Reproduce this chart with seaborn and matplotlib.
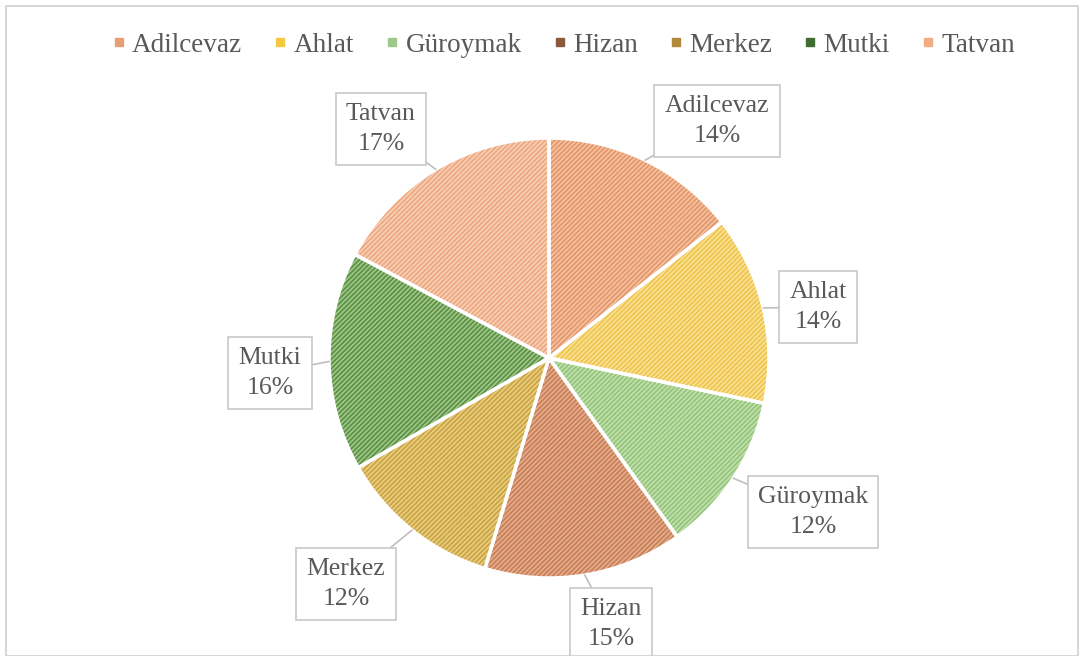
import numpy as np
import matplotlib
matplotlib.use("Agg")
import matplotlib.pyplot as plt
import seaborn as sns
from matplotlib.lines import Line2D
from matplotlib.patches import Rectangle

districts = ["Adilcevaz", "Ahlat", "Güroymak", "Hizan", "Merkez", "Mutki", "Tatvan"]
shares = [14.4, 13.9, 11.8, 14.6, 12.0, 16.1, 17.2]
pct_labels = ["14%", "14%", "12%", "15%", "12%", "16%", "17%"]

face_colors = ["#F6C4A2", "#FBE296", "#C3E2AE", "#E6AF8F", "#EACF82", "#A2CA8A", "#F8D2B8"]
hatch_colors = ["#E4976C", "#EEC550", "#95C47C", "#C98058", "#CBA544", "#5E9148", "#EDA881"]
legend_colors = ["#E8A072", "#F5C842", "#9CC987", "#8B5A3C", "#B08A3A", "#3F6E32", "#F0AD82"]

# label box centres in image pixels
label_pos = [(717, 121), (818, 307), (813, 512), (611, 624), (346, 584), (270, 373), (381, 129)]

W, H = 1086, 656
CX, CY, R = 549, 358, 220

sns.set_theme(style="white")
plt.rcParams["font.family"] = ["Liberation Serif", "DejaVu Serif"]
plt.rcParams["hatch.linewidth"] = 1.3

fig = plt.figure(figsize=(W / 100, H / 100), dpi=100)
ax = fig.add_axes([0, 0, 1, 1])

# hatched fill
wedges, _ = ax.pie(shares, center=(CX, H - CY), radius=R, startangle=90,
                   counterclock=False, colors=face_colors,
                   wedgeprops=dict(linewidth=0, hatch="///////"))
for w, hc in zip(wedges, hatch_colors):
    w.set_edgecolor(hc)
    w.set_linewidth(0)

# white separators
ax.pie(shares, center=(CX, H - CY), radius=R, startangle=90, counterclock=False,
       colors=["none"] * len(shares),
       wedgeprops=dict(linewidth=2.5, edgecolor="white", fill=False))

ax.set_xlim(0, W)
ax.set_ylim(0, H)
ax.set_aspect("equal")
ax.axis("off")

# callout labels
cum = np.cumsum([0] + shares)
for i, name in enumerate(districts):
    mid = 90 - 3.6 * (cum[i] + cum[i + 1]) / 2
    px = CX + R * np.cos(np.radians(mid))
    py = H - CY + R * np.sin(np.radians(mid))
    tx, ty = label_pos[i]
    ax.annotate(f"{name}\n{pct_labels[i]}", xy=(px, py), xytext=(tx, H - ty),
                ha="center", va="center", fontsize=18.5, color="#595959",
                linespacing=1.45, annotation_clip=False,
                bbox=dict(boxstyle="square,pad=0.4", fc="white", ec="#C8C8C8", lw=1.2),
                arrowprops=dict(arrowstyle="-", color="#BFBFBF", lw=1.2,
                                shrinkA=0, shrinkB=0))

handles = [Line2D([0], [0], marker="s", linestyle="none", markersize=6,
                  markerfacecolor=c, markeredgecolor=c) for c in legend_colors]
fig.legend(handles, districts, loc="center", bbox_to_anchor=(560 / W, 1 - 45 / H),
           ncol=7, frameon=False, fontsize=19.5, handletextpad=0.0, columnspacing=0.9,
           handlelength=1.0, labelcolor="#595959")

fig.patches.append(Rectangle((6 / W, 0), 1 - 14 / W, 1 - 6 / H, transform=fig.transFigure,
                             fill=False, ec="#D0D0D0", lw=1.2))

fig.savefig("out.png", dpi=100)
